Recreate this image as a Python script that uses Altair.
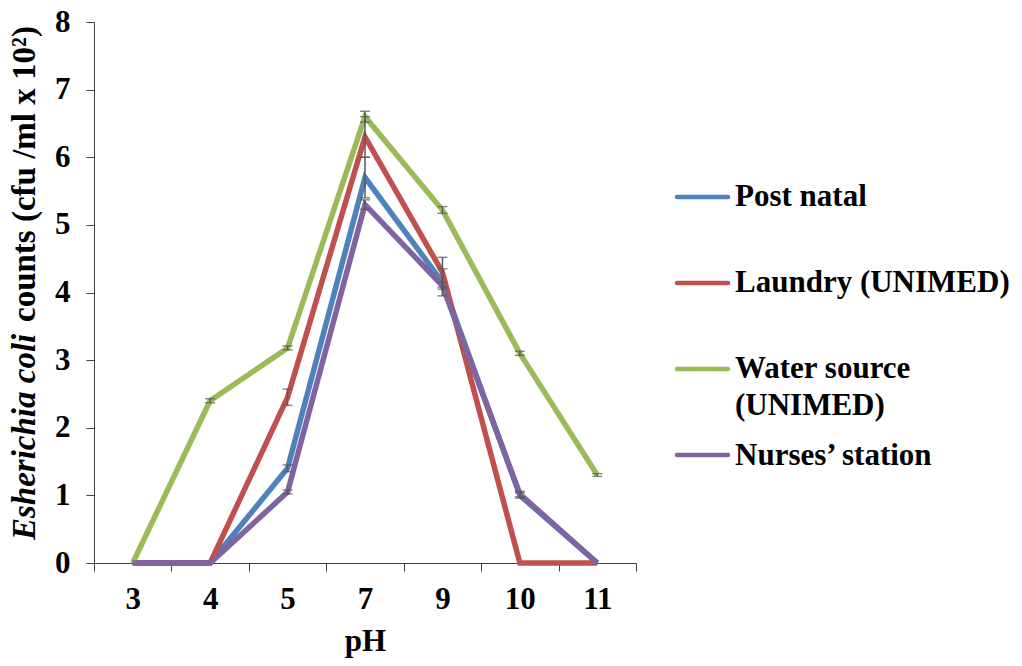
import altair as alt
import pandas as pd

ph = ["3", "4", "5", "7", "9", "10", "11"]
series = ["Post natal", "Laundry (UNIMED)", "Water source (UNIMED)", "Nurses\u2019 station"]
colors = ["#4F81BD", "#C0504D", "#9BBB59", "#8064A2"]

post_natal = [0, 0, 1.4, 5.7, 4.15, 1.0, 0]
laundry = [0, 0, 2.45, 6.3, 4.3, 0, 0]
water = [0, 2.4, 3.18, 6.6, 5.22, 3.1, 1.3]
nurses = [0, 0, 1.05, 5.3, 4.1, 1.02, 0]

post_natal_err = [0, 0, 0.05, 0.3, 0.2, 0.04, 0]
laundry_err = [0, 0, 0.12, 0.3, 0.22, 0, 0]
water_err = [0, 0.03, 0.03, 0.08, 0.05, 0.03, 0.02]
nurses_err = [0, 0, 0.03, 0.07, 0.05, 0.04, 0]

vals = [post_natal, laundry, water, nurses]
errs = [post_natal_err, laundry_err, water_err, nurses_err]

rows = []
for s, v, e in zip(series, vals, errs):
    for p, y, d in zip(ph, v, e):
        rows.append({"pH": p, "series": s, "value": y, "lo": y - d, "hi": y + d, "err": d})
df = pd.DataFrame(rows)

FONT = "Liberation Serif"
FS = 31
W, H = 542, 541

xenc = alt.X("pH:N", sort=ph, title="pH",
             scale=alt.Scale(paddingInner=0, paddingOuter=0),
             axis=alt.Axis(labelAngle=0, tickBand="extent", tickSize=8, grid=False,
                           labelPadding=13, titlePadding=12,
                           domainColor="#404040", tickColor="#404040",
                           labelFont=FONT, labelFontSize=FS, labelFontWeight="bold",
                           labelColor="black",
                           titleFont=FONT, titleFontSize=FS, titleFontWeight="bold",
                           titleColor="black"))
yscale = alt.Scale(domain=[0, 8], nice=False)
yenc = alt.Y("value:Q", scale=yscale, title=None,
             axis=alt.Axis(values=list(range(0, 9)), format="d", grid=False, tickSize=8,
                           labelPadding=16, domainColor="#404040", tickColor="#404040",
                           labelFont=FONT, labelFontSize=FS, labelFontWeight="bold",
                           labelColor="black"))
cscale = alt.Scale(domain=series, range=colors)

base = alt.Chart(df)
layers = []
for s in series:
    layers.append(
        base.transform_filter(alt.datum.series == s).mark_line(strokeWidth=5.5, strokeJoin="miter").encode(
            x=xenc, y=yenc,
            color=alt.Color("series:N", scale=cscale, legend=None)))

eb = base.transform_filter(alt.datum.err > 0)
layers.append(eb.mark_rule(color="#595959", strokeWidth=1.5).encode(
    x=alt.X("pH:N", sort=ph), y=alt.Y("lo:Q", scale=yscale), y2="hi:Q"))
layers.append(eb.mark_tick(color="#595959", thickness=1.5, size=10, orient="horizontal").encode(
    x=alt.X("pH:N", sort=ph), y=alt.Y("lo:Q", scale=yscale)))
layers.append(eb.mark_tick(color="#595959", thickness=1.5, size=10, orient="horizontal").encode(
    x=alt.X("pH:N", sort=ph), y=alt.Y("hi:Q", scale=yscale)))

one = pd.DataFrame({"k": [0]})
TFS = 33
# y-axis title (partly italic)
layers.append(alt.Chart(one).mark_text(
    text="Esherichia coli", angle=270, align="left", baseline="alphabetic",
    font=FONT, fontSize=TFS, fontWeight="bold", fontStyle="italic", color="black").encode(
    x=alt.value(-59), y=alt.value(518)))
layers.append(alt.Chart(one).mark_text(
    text="counts (cfu /ml x 10\u00b2)", angle=270, align="left", baseline="alphabetic",
    font=FONT, fontSize=TFS, fontWeight="bold", color="black").encode(
    x=alt.value(-59), y=alt.value(300)))

# legend
leg_y = [184, 270, 356, 443]
leg_text = ["Post natal", "Laundry (UNIMED)", ["Water source", "(UNIMED)"], "Nurses\u2019 station"]
sym_y = [175, 261, 347, 433]
for c, ty, sy, t in zip(colors, leg_y, sym_y, leg_text):
    layers.append(alt.Chart(one).mark_rule(color=c, strokeWidth=4.5, strokeCap="round").encode(
        x=alt.value(583), x2=alt.value(634), y=alt.value(sy)))
    layers.append(alt.Chart(one).mark_text(
        text=t, align="left", baseline="alphabetic", lineHeight=37,
        font=FONT, fontSize=FS, fontWeight="bold", color="black").encode(
        x=alt.value(641), y=alt.value(ty)))

chart = alt.layer(*layers).properties(
    width=W, height=H,
    autosize=alt.AutoSizeParams(type="none"),
    padding={"left": 86, "top": 14, "right": 378, "bottom": 100},
).configure(background="white").configure_view(strokeWidth=0, strokeOpacity=0)

chart.save("out.html", embed_options={"renderer": "svg", "actions": False})
